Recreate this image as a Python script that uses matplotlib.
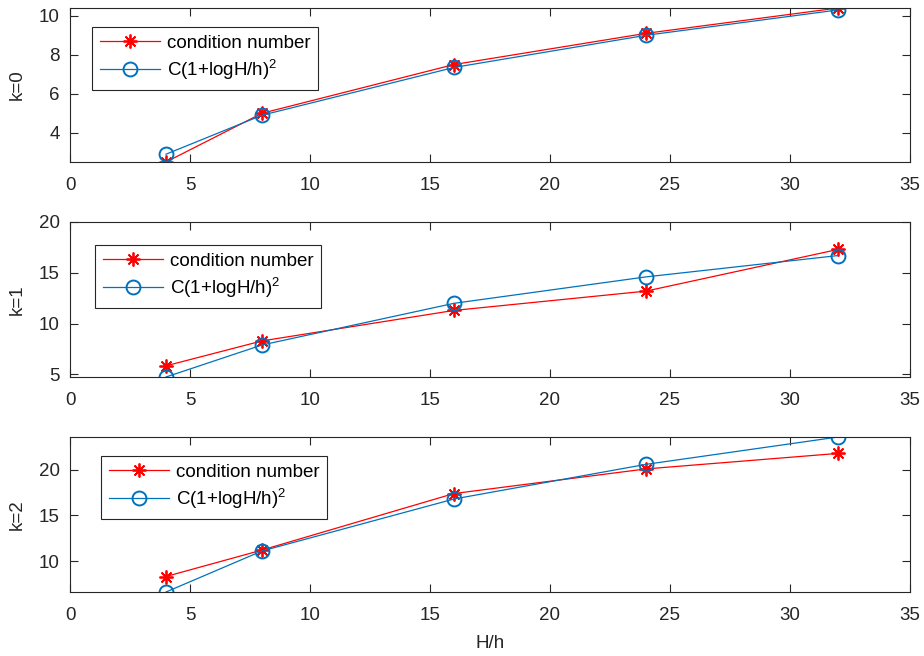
import matplotlib
matplotlib.use("Agg")
import matplotlib.pyplot as plt

plt.rcParams["font.family"] = ["Liberation Sans", "DejaVu Sans"]
plt.rcParams["font.size"] = 13.5
plt.rcParams["mathtext.fontset"] = "custom"
plt.rcParams["mathtext.rm"] = "Liberation Sans"

# H/h values
ratio = [4, 8, 16, 24, 32]

# condition numbers and fitted bound for each k
cond_k0 = [2.5, 5.0, 7.5, 9.1, 10.4]
bound_k0 = [2.9, 4.9, 7.35, 9.0, 10.3]
cond_k1 = [5.85, 8.3, 11.3, 13.2, 17.3]
bound_k1 = [4.75, 7.9, 12.0, 14.6, 16.7]
cond_k2 = [8.3, 11.2, 17.4, 20.1, 21.8]
bound_k2 = [6.6, 11.1, 16.8, 20.6, 23.6]

panel_labels = ["k=0", "k=1", "k=2"]
y_ticks = [[4, 6, 8, 10], [5, 10, 15, 20], [10, 15, 20]]
x_ticks = [0, 5, 10, 15, 20, 25, 30, 35]

axcol = "#262626"
red = "#ff0000"
blue = "#0072bd"

W, H = 924, 656
fig = plt.figure(figsize=(W / 100, H / 100), dpi=100)

# axes boxes in pixels: left, top, right, bottom
boxes = [(70, 8, 910, 162), (70, 222, 910, 377), (70, 437, 910, 592)]
legend_at = [(92, 27), (95, 245), (101, 456)]

series = [(cond_k0, bound_k0), (cond_k1, bound_k1), (cond_k2, bound_k2)]

for i, ((l, t, r, b), (cond, bound)) in enumerate(zip(boxes, series)):
    ax = fig.add_axes([l / W, 1 - b / H, (r - l) / W, (b - t) / H])
    ax.plot(ratio, cond, color=red, lw=0.9, marker=(8, 2, 0), ms=10,
            mec=red, mew=1.3, label="condition number")
    ax.plot(ratio, bound, color=blue, lw=0.9, marker="o", ms=10,
            mfc="none", mec=blue, mew=1.4, label=r"C(1+logH/h)$^2$")

    lo = min(min(cond), min(bound))
    hi = max(max(cond), max(bound))
    ax.set_ylim(lo, hi)
    ax.set_xlim(0, 35)
    ax.set_xticks(x_ticks)
    ax.set_yticks(y_ticks[i])
    ax.set_ylabel(panel_labels[i], color=axcol, labelpad=9)

    for s in ax.spines.values():
        s.set_color(axcol)
        s.set_linewidth(0.8)
    ax.tick_params(direction="in", length=6, width=0.8, colors=axcol,
                   top=True, right=True, labelcolor=axcol)
    ax.tick_params(axis="x", pad=10.5)
    ax.tick_params(axis="y", pad=7.5)

    lx, ly = legend_at[i]
    leg = ax.legend(loc="upper left",
                    bbox_to_anchor=((lx - l) / (r - l), 1 - (ly - t) / (b - t)),
                    borderaxespad=0, fancybox=False, framealpha=1,
                    handlelength=3.2, handletextpad=0.4, labelspacing=0.3,
                    borderpad=0.4, fontsize=13.5)
    leg.get_frame().set_edgecolor(axcol)
    leg.get_frame().set_linewidth(0.8)
    for txt in leg.get_texts():
        txt.set_color("black")

    if i == 2:
        ax.set_xlabel("H/h", color=axcol, labelpad=8)

fig.savefig("out.png", dpi=100)
